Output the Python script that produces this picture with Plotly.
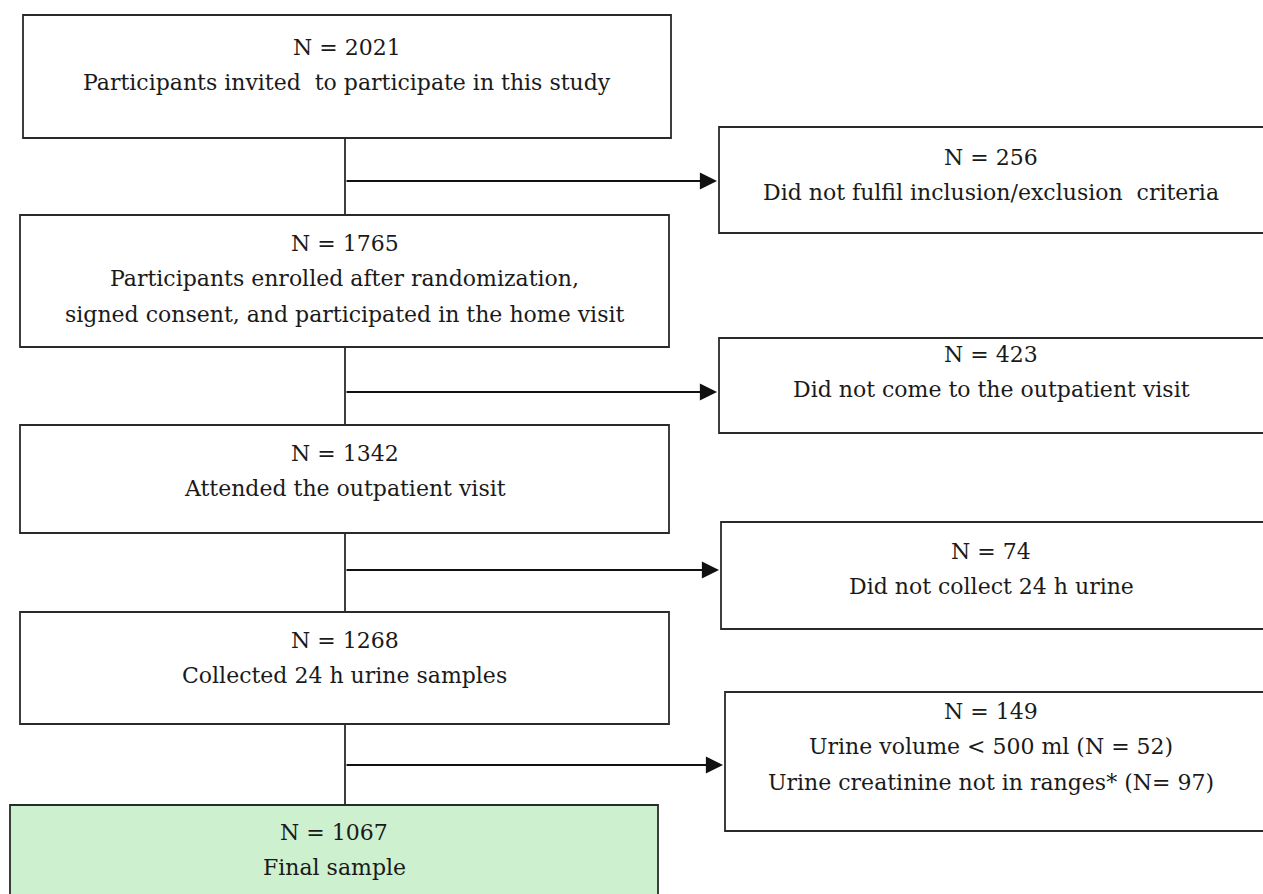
import plotly.graph_objects as go

# ---- data ----
main_counts = [2021, 1765, 1342, 1268, 1067]
main_labels = [
    ["Participants invited  to participate in this study"],
    ["Participants enrolled after randomization,", "signed consent, and participated in the home visit"],
    ["Attended the outpatient visit"],
    ["Collected 24 h urine samples"],
    ["Final sample"],
]
excl_counts = [256, 423, 74, 149]
excl_labels = [
    ["Did not fulfil inclusion/exclusion  criteria"],
    ["Did not come to the outpatient visit"],
    ["Did not collect 24 h urine"],
    ["Urine volume < 500 ml (N = 52)", "Urine creatinine not in ranges* (N= 97)"],
]

# ---- layout (pixel geometry, screen coordinates) ----
W, H = 1263, 894
main_boxes = [(23, 671, 15, 138), (20, 669, 215, 347), (20, 669, 425, 533),
              (20, 669, 612, 724), (10, 658, 805, 900)]
main_text_y = [47, 243, 453, 640, 832]
excl_boxes = [(719, 1275, 127, 233), (719, 1275, 338, 433), (721, 1275, 522, 629),
              (725, 1275, 692, 831)]
excl_text_x = 991
excl_text_y = [157, 354, 551, 711]
arrow_y = [181, 392, 570, 765]
stem_x = 345
line_gap = 35.5
FONT = dict(family="DejaVu Serif, serif", size=22, color="#1a1a1a")
EDGE = "#2a2a2a"

fig = go.Figure()
shapes, annos = [], []

for i, (x0, x1, y0, y1) in enumerate(main_boxes):
    fill = "#CDF0CF" if i == len(main_boxes) - 1 else "white"
    shapes.append(dict(type="rect", x0=x0, x1=x1, y0=y0, y1=y1, xref="x", yref="y",
                       line=dict(color=EDGE, width=1.8), fillcolor=fill, layer="below"))
    cx = (x0 + x1) / 2
    lines = [f"N = {main_counts[i]}"] + main_labels[i]
    for k, t in enumerate(lines):
        annos.append(dict(x=cx, y=main_text_y[i] + k * line_gap, text=t, showarrow=False,
                          xref="x", yref="y", font=FONT, xanchor="center", yanchor="middle"))

for i, (x0, x1, y0, y1) in enumerate(excl_boxes):
    shapes.append(dict(type="rect", x0=x0, x1=x1, y0=y0, y1=y1, xref="x", yref="y",
                       line=dict(color=EDGE, width=1.8), fillcolor="white", layer="below"))
    lines = [f"N = {excl_counts[i]}"] + excl_labels[i]
    for k, t in enumerate(lines):
        annos.append(dict(x=excl_text_x, y=excl_text_y[i] + k * line_gap, text=t, showarrow=False,
                          xref="x", yref="y", font=FONT, xanchor="center", yanchor="middle"))

# connectors
for i in range(len(main_boxes) - 1):
    y_top = main_boxes[i][3]
    y_bot = main_boxes[i + 1][2]
    shapes.append(dict(type="line", x0=stem_x, x1=stem_x, y0=y_top, y1=y_bot, xref="x", yref="y",
                       line=dict(color=EDGE, width=1.8)))
    ex0 = excl_boxes[i][0]
    annos.append(dict(x=ex0 - 2, y=arrow_y[i], ax=stem_x, ay=arrow_y[i], axref="x", ayref="y",
                      xref="x", yref="y", text="", showarrow=True, arrowhead=2, arrowsize=1.9,
                      arrowwidth=1.8, arrowcolor="#111111"))

fig.update_layout(
    width=W, height=H, autosize=False,
    margin=dict(l=0, r=0, t=0, b=0),
    paper_bgcolor="white", plot_bgcolor="white",
    xaxis=dict(range=[0, W], visible=False, fixedrange=True),
    yaxis=dict(range=[H, 0], visible=False, fixedrange=True),
    shapes=shapes, annotations=annos, showlegend=False,
)
fig.write_html("out.html", config={"displayModeBar": False},
               post_script="document.body.style.margin='0';document.body.style.overflow='hidden';")
